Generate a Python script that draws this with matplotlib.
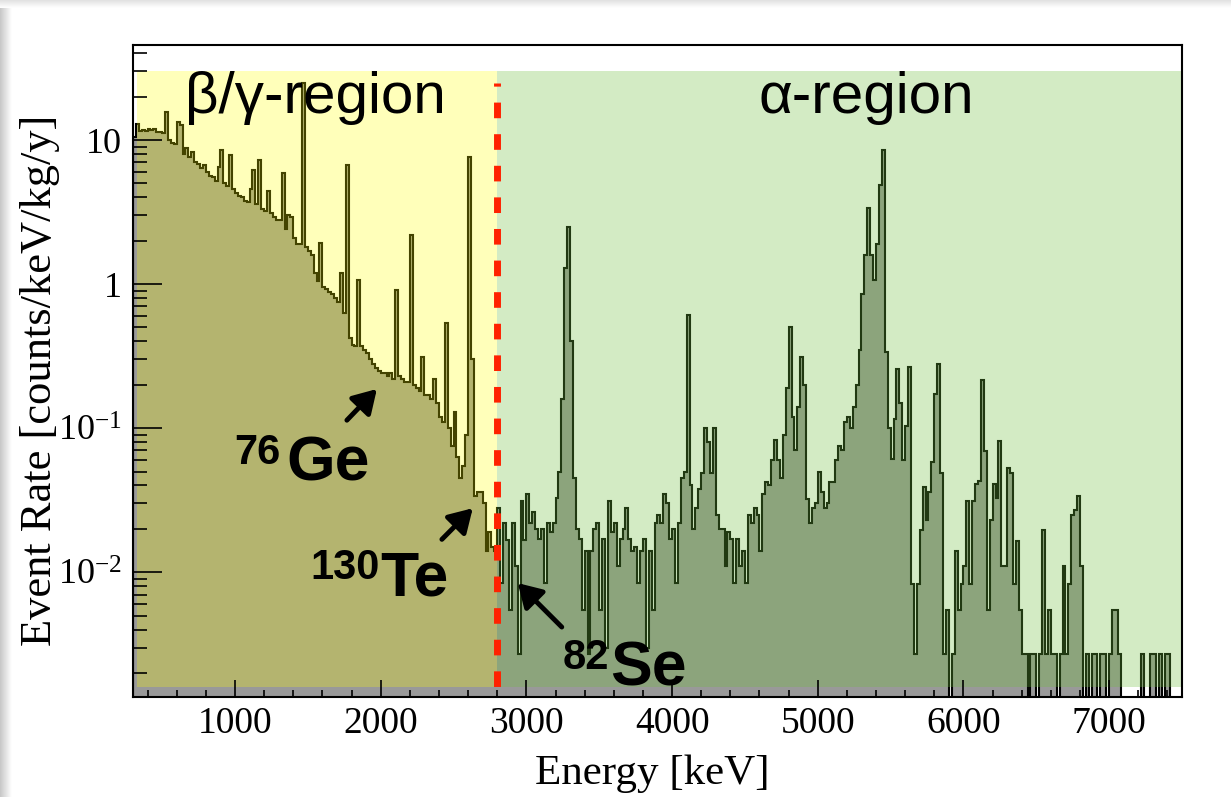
"""
Background spectrum: beta/gamma region vs alpha region, log-scale event rate.
"""
import numpy as np
import matplotlib.pyplot as plt
from matplotlib import ticker
from matplotlib.patches import Rectangle

plt.rcParams["font.family"] = ["Liberation Serif", "DejaVu Serif"]
plt.rcParams["mathtext.fontset"] = "custom"
plt.rcParams["mathtext.rm"] = "Liberation Serif"
plt.rcParams["mathtext.it"] = "Liberation Serif:italic"
plt.rcParams["mathtext.bf"] = "Liberation Serif:bold"

# ---------------------------------------------------------------------------
# data: 20 keV bins from 300 keV to 7500 keV  [counts/keV/kg/y]
# ---------------------------------------------------------------------------
E_MIN, E_MAX, BIN = 300, 7500, 20
SPLIT = 2800  # beta/gamma | alpha boundary

rate_beta_gamma = [
    10.5, 13.0, 11.5, 11.8, 11.6, 12.0, 11.7, 12.0, 11.4, 11.3,
    11.2, 15.6, 10.0, 9.6, 9.4, 13.3, 12.8, 8.0, 8.8, 7.6,
    8.3, 7.0, 6.8, 6.4, 6.7, 6.0, 5.6, 5.5, 5.2, 6.5,
    8.5, 5.0, 4.8, 7.9, 4.6, 4.3, 4.1, 4.0, 3.8, 3.7,
    4.6, 6.2, 3.6, 7.3, 3.3, 3.2, 4.4, 3.1, 2.9, 2.8,
    2.8, 5.9, 2.4, 3.0, 2.9, 2.1, 1.9, 1.9, 25.0, 1.8,
    1.7, 1.6, 1.2, 1.05, 1.93, 0.95, 0.92, 0.88, 0.86, 0.80,
    0.75, 1.19, 0.63, 6.7, 0.42, 0.38, 0.37, 1.07, 0.37, 0.35,
    0.33, 0.30, 0.28, 0.26, 0.25, 0.24, 0.24, 0.23, 0.24, 0.22,
    0.91, 0.23, 0.22, 0.21, 0.21, 2.2, 0.20, 0.19, 0.18, 0.31,
    0.17, 0.17, 0.16, 0.22, 0.15, 0.12, 0.11, 0.54, 0.10, 0.075,
    0.13, 0.063, 0.045, 0.055, 0.09, 7.6, 0.3, 0.034, 0.036, 0.036,
    0.03, 0.014, 0.019, 0.015, 0.014,
]

rate_alpha = [
    0.028, 0.0084, 0.022, 0.0167, 0.0055, 0.022, 0.011, 0.0027, 0.031, 0.0167,
    0.035, 0.022, 0.026, 0.02, 0.017, 0.02, 0.0084, 0.022, 0.019, 0.022,
    0.033, 0.05, 0.16, 1.3, 2.49, 0.4, 0.045, 0.02, 0.017, 0.0055,
    0.014, 0.0027, 0.014, 0.02, 0.022, 0.0055, 0.017, 0.003, 0.031, 0.019,
    0.022, 0.011, 0.017, 0.02, 0.028, 0.017, 0.014, 0.015, 0.0084, 0.014,
    0.017, 0.003, 0.014, 0.0055, 0.022, 0.025, 0.022, 0.035, 0.03, 0.017,
    0.02, 0.0084, 0.022, 0.045, 0.05, 0.61, 0.04, 0.02, 0.028, 0.038,
    0.049, 0.1, 0.08, 0.049, 0.1, 0.025, 0.02, 0.02, 0.011, 0.019,
    0.017, 0.0084, 0.017, 0.011, 0.014, 0.0084, 0.025, 0.022, 0.028, 0.025,
    0.014, 0.035, 0.042, 0.04, 0.06, 0.083, 0.06, 0.045, 0.09, 0.19,
    0.5, 0.12, 0.07, 0.14, 0.31, 0.2, 0.032, 0.022, 0.028, 0.03,
    0.05, 0.036, 0.028, 0.03, 0.042, 0.042, 0.06, 0.075, 0.07, 0.11,
    0.12, 0.1, 0.14, 0.2, 0.35, 0.85, 1.6, 3.4, 1.6, 1.07,
    1.9, 4.9, 8.5, 0.34, 0.1, 0.061, 0.115, 0.257, 0.15, 0.06,
    0.103, 0.265, 0.0083, 0.0027, 0.0083, 0.0195, 0.039, 0.023, 0.036, 0.058,
    0.172, 0.28, 0.049, 0.0027, 0.0055, 0, 0.0027, 0.014, 0.0055, 0.0083,
    0.011, 0.031, 0.0083, 0.031, 0.041, 0.043, 0.215, 0.069, 0.0055, 0.023,
    0.041, 0.033, 0.081, 0.011, 0.011, 0.053, 0.049, 0.0083, 0.0164, 0.0055,
    0.0027, 0.0027, 0, 0.0027, 0.0027, 0, 0.0027, 0.0195, 0.0027, 0.0055,
    0.0027, 0.0027, 0, 0.0027, 0.011, 0.0027, 0.0083, 0.025, 0.027, 0.034,
    0.011, 0, 0.0027, 0, 0.0027, 0.0027, 0, 0.0027, 0.0027, 0,
    0.0027, 0.0055, 0.0055, 0.0027, 0, 0, 0, 0, 0, 0,
    0, 0.0027, 0, 0, 0.0027, 0.0027, 0, 0.0027, 0, 0.0027,
    0.0027, 0, 0, 0, 0,
]

# isotope labels: (mass number, element, label anchor, arrow tail, arrow tip)
iso_mass = ["76", "130", "82"]
iso_name = ["Ge", "Te", "Se"]
iso_text_xy = [(1350, 0.0435), (2000, 0.0069), (3575, 0.00164)]
iso_arrow_from = [(1768, 0.1135), (2420, 0.0169), (3243, 0.00416)]
iso_arrow_to = [(1974, 0.187), (2632, 0.0278), (2941, 0.0084)]
iso_sup_dx = [-4, -1, -0.5]

Y_LO, Y_HI = 0.00136, 45.7
BOX_LO, BOX_HI = 0.0016, 30

rates = np.array(rate_beta_gamma + rate_alpha, dtype=float)
edges = E_MIN + BIN * np.arange(len(rates) + 1)
plot_rates = np.where(rates > 0, rates, 1e-6)  # empty bins drop off the log axis

# ---------------------------------------------------------------------------
# figure
# ---------------------------------------------------------------------------
fig = plt.figure(figsize=(12.31, 7.97), dpi=100)

# faint screenshot shadow on the left / top edge
grad = np.linspace(0.78, 1.0, 32)[None, :]
sh = fig.add_axes([0, 0, 12 / 1231, 1], zorder=-5)
sh.imshow(grad, cmap="gray", vmin=0, vmax=1, aspect="auto")
sh.axis("off")
sh2 = fig.add_axes([0, 1 - 8 / 797, 1, 8 / 797], zorder=-5)
sh2.imshow(np.linspace(0.88, 1.0, 16)[:, None], cmap="gray", vmin=0, vmax=1, aspect="auto")
sh2.axis("off")

ax = fig.add_axes([133 / 1231, 1 - 697 / 797, 1049 / 1231, 652 / 797])
ax.set_yscale("log")

ax.stairs(plot_rates, edges, fill=True, color="#999999", baseline=1e-6, zorder=1)
ax.stairs(plot_rates, edges, color="black", lw=1.5, baseline=1e-6, zorder=1.2)

# translucent region boxes drawn over the histogram
ax.add_patch(Rectangle((330, BOX_LO), SPLIT - 330, BOX_HI - BOX_LO,
                       facecolor=(1.0, 1.0, 0.0), alpha=0.27, lw=0, zorder=1.5))
ax.add_patch(Rectangle((SPLIT, BOX_LO), E_MAX - SPLIT, BOX_HI - BOX_LO,
                       facecolor=(110 / 255, 190 / 255, 60 / 255), alpha=0.3, lw=0, zorder=1.5))

ax.plot([SPLIT, SPLIT], [24.9, Y_LO], color="#ff2200", lw=5,
        linestyle=(1.8, (2.25, 2.3)), solid_capstyle="butt", zorder=2)

ax.text(1549, 15.4, "β/γ-region", family="Liberation Sans", fontsize=42,
        ha="center", va="baseline", zorder=5)
ax.text(5335, 15.4, "α-region", family="Liberation Sans", fontsize=42,
        ha="center", va="baseline", zorder=5)

for mass, name, txy, a0, a1, dx in zip(iso_mass, iso_name, iso_text_xy,
                                       iso_arrow_from, iso_arrow_to, iso_sup_dx):
    ax.text(txy[0], txy[1], name, family="Liberation Sans", fontweight="bold",
            fontsize=45, ha="left", va="baseline", zorder=5)
    ax.annotate(mass, xy=txy, xytext=(dx, 12), textcoords="offset points",
                family="Liberation Sans", fontweight="bold", fontsize=30,
                ha="right", va="baseline", zorder=5)
    ax.annotate("", xy=a1, xytext=a0, zorder=5,
                arrowprops=dict(arrowstyle="-|>,head_length=0.5,head_width=0.3",
                                lw=3.5, color="black", mutation_scale=28,
                                shrinkA=0, shrinkB=0))

ax.set_xlim(E_MIN, E_MAX)
ax.set_ylim(Y_LO, Y_HI)

ax.xaxis.set_major_locator(ticker.MultipleLocator(1000))
ax.xaxis.set_minor_locator(ticker.MultipleLocator(200))
ax.yaxis.set_major_locator(ticker.FixedLocator([0.01, 0.1, 1, 10]))
ax.yaxis.set_major_formatter(ticker.FixedFormatter(["$10^{-2}$", "$10^{-1}$", "1", "10"]))
ax.yaxis.set_minor_locator(ticker.LogLocator(base=10, subs=np.arange(2, 10)))
ax.yaxis.set_minor_formatter(ticker.NullFormatter())

ax.tick_params(which="both", direction="in", top=False, right=False, width=1.2)
ax.tick_params(axis="x", which="major", length=12, pad=7, labelsize=27)
ax.tick_params(axis="x", which="minor", length=5)
ax.tick_params(axis="y", which="major", length=21, pad=8, labelsize=26)
ax.tick_params(axis="y", which="minor", length=10)
for sp in ax.spines.values():
    sp.set_linewidth(1.5)

ax.set_xlabel("Energy [keV]", fontsize=31)
ax.xaxis.set_label_coords(0.495, -0.0885)
ax.set_ylabel("Event Rate [counts/keV/kg/y]", fontsize=32)
ax.yaxis.set_label_coords(-0.0696, 0.485)

fig.savefig("out.png", dpi=100)
